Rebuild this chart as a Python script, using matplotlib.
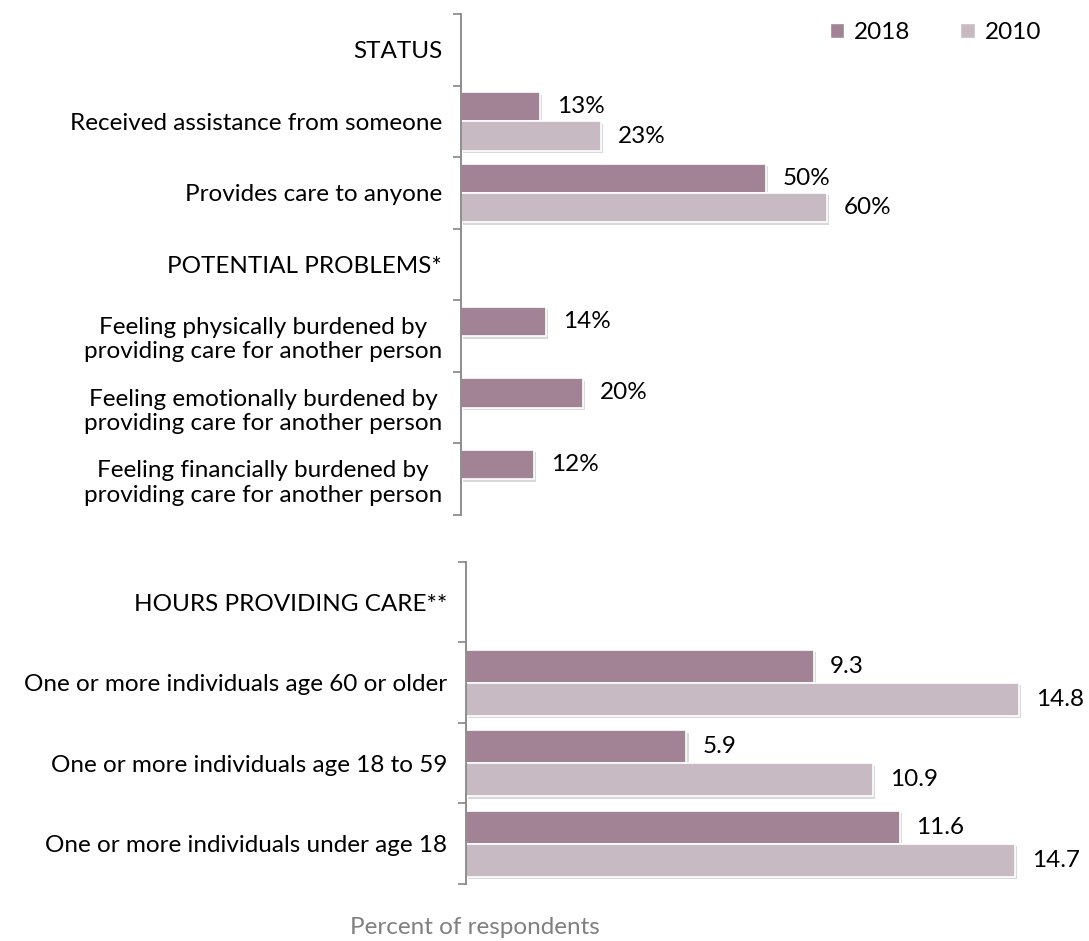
import matplotlib
matplotlib.use("Agg")
import matplotlib.pyplot as plt
import matplotlib.patheffects as pe
from matplotlib.patches import Patch
import numpy as np

plt.rcParams["font.family"] = ["Lato", "DejaVu Sans"]

# top panel: percent of respondents
top_labels = [
    "STATUS",
    "Received assistance from someone",
    "Provides care to anyone",
    "POTENTIAL PROBLEMS*",
    "Feeling physically burdened by\nproviding care for another person",
    "Feeling emotionally burdened by\nproviding care for another person",
    "Feeling financially burdened by\nproviding care for another person",
]
top_2018 = [None, 13, 50, None, 14, 20, 12]
top_2010 = [None, 23, 60, None, None, None, None]

# bottom panel: hours providing care
bottom_labels = [
    "HOURS PROVIDING CARE**",
    "One or more individuals age 60 or older",
    "One or more individuals age 18 to 59",
    "One or more individuals under age 18",
]
bottom_2018 = [None, 9.3, 5.9, 11.6]
bottom_2010 = [None, 14.8, 10.9, 14.7]

series_names = ["2018", "2010"]
colors = ["#A28295", "#C8BAC3"]

FS = 17.5
shadow = [pe.SimplePatchShadow(offset=(1.5, -1.8), shadow_rgbFace="#a0a0a0", alpha=0.4), pe.Normal()]


def draw_panel(ax, labels, s2018, s2010, fmt):
    n = len(labels)
    pos = np.arange(n)
    h = 0.41
    for vals, off, col in [(s2018, -0.205, colors[0]), (s2010, 0.205, colors[1])]:
        for p, v in zip(pos, vals):
            if v is None:
                continue
            bar = ax.barh(p + off, v, height=h, color=col, edgecolor="white", linewidth=1.2)
            bar[0].set_path_effects(shadow)
            ax.annotate(fmt(v), (v, p + off), xytext=(12, 0), textcoords="offset points",
                        va="center", ha="left", fontsize=FS)
    ax.set_ylim(n - 0.5, -0.5)
    ax.set_yticks(pos)
    ax.set_yticklabels(labels, fontsize=FS, multialignment="center")
    ax.set_yticks(np.arange(n + 1) - 0.5, minor=True)
    ax.tick_params(axis="y", which="major", length=0, pad=13.5)
    ax.tick_params(axis="y", which="minor", length=6, width=1.2, color="#868686")
    ax.set_xticks([])
    for s in ["top", "right", "bottom"]:
        ax.spines[s].set_visible(False)
    ax.spines["left"].set_color("#868686")
    ax.spines["left"].set_linewidth(1.3)


fig = plt.figure(figsize=(10.89, 9.41), dpi=100)
ax_top = fig.add_axes([0.4233, 0.4527, 0.5601, 0.5324])
ax_bot = fig.add_axes([0.4279, 0.0606, 0.5491, 0.3422])

draw_panel(ax_top, top_labels, top_2018, top_2010, lambda v: f"{v:.0f}%")
ax_top.set_xlim(0, 100)
draw_panel(ax_bot, bottom_labels, bottom_2018, bottom_2010, lambda v: f"{v:.1f}")
ax_bot.set_xlim(0, 16)

handles = [Patch(facecolor=c, edgecolor="white") for c in colors]
fig.legend(handles, series_names, loc="upper right", bbox_to_anchor=(0.976, 1.0),
           ncol=2, frameon=False, fontsize=FS, handlelength=0.6, handleheight=0.6,
           handletextpad=0.4, columnspacing=2.05)

fig.text(475 / 1089, 1 - 927 / 941, "Percent of respondents", ha="center", va="center",
         fontsize=FS, color="#808080")

fig.savefig("out.png", dpi=100)
